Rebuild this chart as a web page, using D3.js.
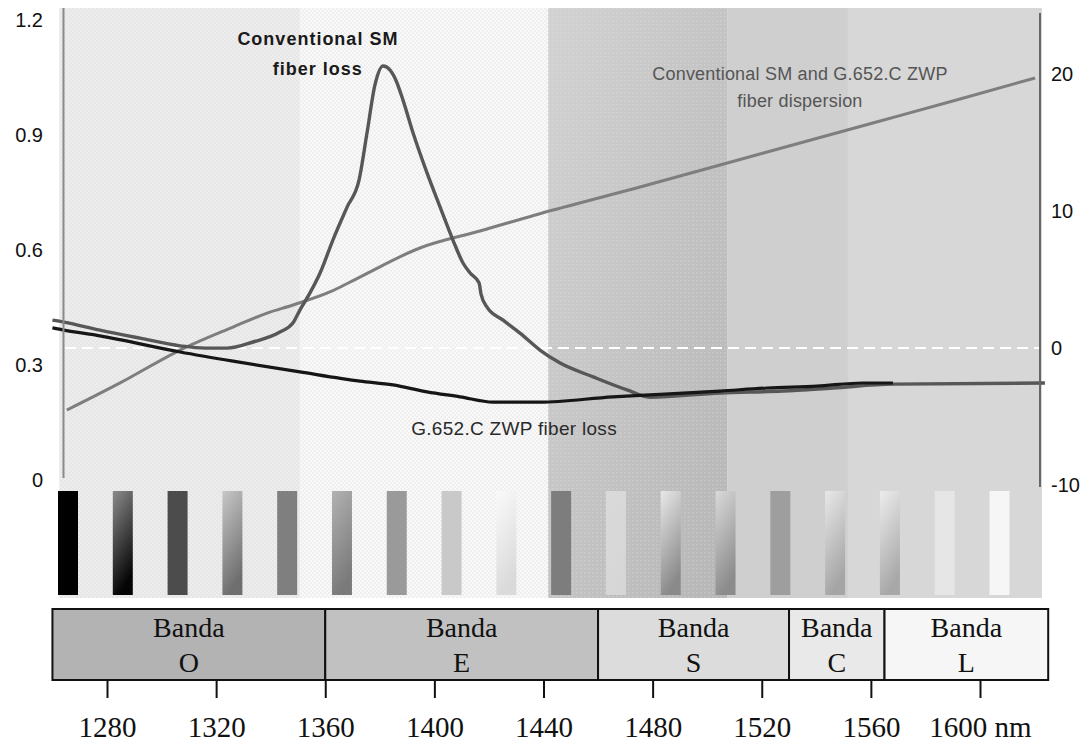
<!DOCTYPE html>
<html>
<head>
<meta charset="utf-8">
<script src="https://cdn.jsdelivr.net/npm/d3@7"></script>
<style>
  body { margin: 0; background: #fff; }
  svg { display: block; }
  .note { font-family: "Liberation Sans", Arial, sans-serif; }
  .tick text { font-family: "Liberation Sans", Arial, sans-serif; }
  .band text, .xaxis text { font-family: "Liberation Serif", "Times New Roman", serif; }
</style>
</head>
<body>
<div id="chart"></div>
<script>
// Conventional SM fiber loss (dB/km)
const convNm   = [1260, 1264.2, 1277.4, 1292.1, 1306.8, 1315.9, 1324, 1333.5, 1343.4, 1348.2, 1350.7, 1354.4, 1358.1, 1362.8, 1368, 1372.4, 1375.3, 1378.2, 1381.2, 1383.7, 1385.9, 1388.5, 1392.2, 1397.3, 1402.1, 1406.8, 1410.5, 1413.1, 1416.4, 1417.1, 1419.3, 1425.2, 1431.4, 1438.7, 1446.1, 1458.2, 1470.6, 1479, 1504.7, 1527.8, 1546.1, 1568.1, 1623.8];
const convLoss = [0.417, 0.412, 0.391, 0.370, 0.350, 0.344, 0.344, 0.360, 0.386, 0.410, 0.443, 0.488, 0.540, 0.626, 0.712, 0.783, 0.905, 1.030, 1.080, 1.070, 1.043, 0.991, 0.905, 0.801, 0.712, 0.626, 0.566, 0.540, 0.514, 0.485, 0.451, 0.417, 0.383, 0.339, 0.305, 0.269, 0.235, 0.216, 0.227, 0.232, 0.240, 0.250, 0.253];

// G.652.C ZWP fiber loss (dB/km)
const zwpNm   = [1260, 1264.2, 1277.4, 1306.8, 1326.2, 1350.7, 1372.7, 1384.8, 1397.3, 1409.4, 1421.5, 1438.7, 1465.5, 1479, 1504.7, 1521.9, 1540.3, 1557.1, 1568.1];
const zwpLoss = [0.397, 0.391, 0.376, 0.334, 0.310, 0.282, 0.258, 0.248, 0.230, 0.217, 0.203, 0.203, 0.217, 0.222, 0.232, 0.240, 0.245, 0.253, 0.253];

// dispersion (ps/nm.km)
const dispNm  = [1265.3, 1284.8, 1306.8, 1326.2, 1338.7, 1348.2, 1361.7, 1372.7, 1394.7, 1416.7, 1443.5, 1475.4, 1504.7, 1534, 1563.4, 1592.7, 1620.2];
const dispVal = [-4.53, -2.55, -0.15, 1.53, 2.55, 3.14, 4.09, 5.18, 7.30, 8.54, 10.07, 11.75, 13.36, 14.96, 16.57, 18.18, 19.71];

// bands
const bandNames = ["O", "E", "S", "C", "L"];
const bandEdges = [1260, 1360, 1460, 1530, 1565, 1625];

// ticks
const lossTicks = [0, 0.3, 0.6, 0.9, 1.2];
const dispTicks = [-10, 0, 10, 20];
const nmTicks   = [1280, 1320, 1360, 1400, 1440, 1480, 1520, 1560, 1600];

// background panels (nm)
const panelEdges = [1262.5, 1350.7, 1441.7, 1507.3, 1551.6, 1622.7];

// spectrum swatches (top colour, bottom colour)
const swatchTop    = ["#000", "#8c8c8c", "#4c4c4c", "#c8c8c8", "#7f7f7f", "#b2b2b2", "#9a9a9a", "#c9c9c9", "#fafafa", "#7d7d7d", "#dadada", "#e8e8e8", "#dadada", "#9e9e9e", "#e8e8e8", "#ededed", "#e6e6e6", "#f6f6f6"];
const swatchBottom = ["#000", "#050505", "#4c4c4c", "#6e6e6e", "#7f7f7f", "#7a7a7a", "#9a9a9a", "#c9c9c9", "#dadada", "#7d7d7d", "#d6d6d6", "#8a8a8a", "#8c8c8c", "#9e9e9e", "#a5a5a5", "#a8a8a8", "#e6e6e6", "#f6f6f6"];

const W = 1086, H = 742;
const svg = d3.select("#chart").append("svg").attr("width", W).attr("height", H);

const x = d3.scaleLinear().domain([1280, 1600]).range([107, 980]);
const yLoss = d3.scaleLinear().domain([0, 1.2]).range([480, 20]);
const yDisp = d3.scaleLinear().domain([-10, 20]).range([485, 74]);

const plotTop = 8, plotBottom = 598;

// patterns
const defs = svg.append("defs");
function checker(id, base, dark) {
  const p = defs.append("pattern").attr("id", id).attr("width", 4).attr("height", 4)
    .attr("patternUnits", "userSpaceOnUse");
  p.append("rect").attr("width", 4).attr("height", 4).attr("fill", base);
  p.append("rect").attr("width", 2).attr("height", 2).attr("fill", dark);
  p.append("rect").attr("x", 2).attr("y", 2).attr("width", 2).attr("height", 2).attr("fill", dark);
}
checker("chk1", "#ededed", "#e6e6e6");
checker("chk2", "#f9f9f9", "#efefef");
const g3 = defs.append("linearGradient").attr("id", "g3")
  .attr("x1", 0).attr("y1", 0).attr("x2", 1).attr("y2", 1);
g3.append("stop").attr("offset", "0%").attr("stop-color", "#d2d2d2");
g3.append("stop").attr("offset", "100%").attr("stop-color", "#b6b6b6");
const dots = defs.append("pattern").attr("id", "dots").attr("width", 4).attr("height", 4)
  .attr("patternUnits", "userSpaceOnUse");
dots.append("rect").attr("width", 1.5).attr("height", 1.5).attr("fill", "#fff").attr("opacity", 0.18);

const panelFill = ["url(#chk1)", "url(#chk2)", "url(#g3)", "#cfcfcf", "#d7d7d7"];
const panels = d3.range(panelEdges.length - 1);
svg.append("g").selectAll("rect").data(panels).join("rect")
  .attr("x", i => x(panelEdges[i]))
  .attr("y", plotTop)
  .attr("width", i => x(panelEdges[i + 1]) - x(panelEdges[i]))
  .attr("height", plotBottom - plotTop)
  .attr("fill", i => panelFill[i]);
svg.append("rect")
  .attr("x", x(panelEdges[2])).attr("y", plotTop)
  .attr("width", x(panelEdges[3]) - x(panelEdges[2])).attr("height", plotBottom - plotTop)
  .attr("fill", "url(#dots)");

// spectrum swatches
swatchTop.forEach((c, i) => {
  const gr = defs.append("linearGradient").attr("id", "sw" + i)
    .attr("x1", 0).attr("y1", 0).attr("x2", 0.3).attr("y2", 1);
  gr.append("stop").attr("offset", "0%").attr("stop-color", c);
  gr.append("stop").attr("offset", "100%").attr("stop-color", swatchBottom[i]);
});
const sx = d3.scalePoint().domain(d3.range(swatchTop.length)).range([68, 999.5]);
svg.append("g").selectAll("rect").data(d3.range(swatchTop.length)).join("rect")
  .attr("x", i => sx(i) - 10)
  .attr("y", 491)
  .attr("width", 20)
  .attr("height", 104)
  .attr("fill", i => "url(#sw" + i + ")");

// zero dispersion dashed line
svg.append("line")
  .attr("x1", 65).attr("x2", 1039)
  .attr("y1", yDisp(0)).attr("y2", yDisp(0))
  .attr("stroke", "#fff").attr("stroke-width", 2).attr("stroke-dasharray", "11,6");

// curves
const line = (xs, ys, yScale) => d3.line().curve(d3.curveMonotoneX)
  .x((d, i) => x(xs[i])).y((d, i) => yScale(ys[i]))(xs);

svg.append("path").attr("d", line(dispNm, dispVal, yDisp))
  .attr("fill", "none").attr("stroke", "#7e7e7e").attr("stroke-width", 3);
svg.append("path").attr("d", line(convNm, convLoss, yLoss))
  .attr("fill", "none").attr("stroke", "#575757").attr("stroke-width", 3.4);
svg.append("path").attr("d", line(zwpNm, zwpLoss, yLoss))
  .attr("fill", "none").attr("stroke", "#161616").attr("stroke-width", 3.2);

// axes
svg.append("line").attr("x1", 63.5).attr("x2", 63.5)
  .attr("y1", plotTop).attr("y2", 478).attr("stroke", "#8a8a8a").attr("stroke-width", 2);
svg.append("line").attr("x1", 1040).attr("x2", 1040)
  .attr("y1", 13).attr("y2", 487).attr("stroke", "#666").attr("stroke-width", 2);

const left = svg.append("g").attr("transform", "translate(63,0)")
  .call(d3.axisLeft(yLoss).tickValues(lossTicks).tickSize(0).tickPadding(20)
    .tickFormat(d => d === 0 ? "0" : d.toFixed(1)));
left.select(".domain").remove();
left.selectAll("text").attr("font-size", 20).attr("fill", "#111");

const right = svg.append("g").attr("transform", "translate(1040,0)")
  .call(d3.axisRight(yDisp).tickValues(dispTicks).tickSize(0).tickPadding(11)
    .tickFormat(d => String(d)));
right.select(".domain").remove();
right.selectAll("text").attr("font-size", 20).attr("fill", "#111");

// notes
const notes = [
  {t: "Conventional SM", nm: 1357.3, v: 1.135, s: "loss", w: "bold", c: "#1a1a1a", f: 18, ls: 1},
  {t: "fiber loss",      nm: 1357.3, v: 1.057, s: "loss", w: "bold", c: "#1a1a1a", f: 18, ls: 1},
  {t: "Conventional SM and G.652.C ZWP", nm: 1534, v: 19.56, s: "disp", w: "normal", c: "#555", f: 18, ls: 0.2},
  {t: "fiber dispersion", nm: 1534, v: 17.6, s: "disp", w: "normal", c: "#555", f: 18, ls: 0.2},
  {t: "G.652.C ZWP fiber loss", nm: 1429.2, v: 0.117, s: "loss", w: "normal", c: "#2a2a2a", f: 19, ls: 0.3}
];
svg.append("g").selectAll("text").data(notes).join("text")
  .attr("class", "note")
  .attr("x", d => x(d.nm))
  .attr("y", d => d.s === "loss" ? yLoss(d.v) : yDisp(d.v))
  .attr("text-anchor", "middle")
  .attr("font-size", d => d.f)
  .attr("font-weight", d => d.w)
  .attr("letter-spacing", d => d.ls)
  .attr("fill", d => d.c)
  .text(d => d.t);

// bands
const bandFill = ["#b3b3b3", "#c1c1c1", "#dcdcdc", "#e9e9e9", "#f6f6f6"];
const band = svg.append("g").attr("class", "band").selectAll("g").data(bandNames).join("g");
band.append("rect")
  .attr("x", (d, i) => x(bandEdges[i]))
  .attr("y", 609)
  .attr("width", (d, i) => x(bandEdges[i + 1]) - x(bandEdges[i]))
  .attr("height", 71)
  .attr("fill", (d, i) => bandFill[i])
  .attr("stroke", "#111").attr("stroke-width", 2);
band.append("text")
  .attr("x", (d, i) => (x(bandEdges[i]) + x(bandEdges[i + 1])) / 2)
  .attr("y", 637).attr("text-anchor", "middle").attr("font-size", 28).attr("fill", "#111")
  .text("Banda");
band.append("text")
  .attr("x", (d, i) => (x(bandEdges[i]) + x(bandEdges[i + 1])) / 2)
  .attr("y", 672).attr("text-anchor", "middle").attr("font-size", 28).attr("fill", "#111")
  .text(d => d);

const bottom = svg.append("g").attr("class", "xaxis").attr("transform", "translate(0,681)")
  .call(d3.axisBottom(x).tickValues(nmTicks).tickSize(17).tickPadding(18)
    .tickFormat(d => d === 1600 ? "1600 nm" : String(d)));
bottom.select(".domain").remove();
bottom.selectAll("line").attr("stroke", "#111").attr("stroke-width", 2);
bottom.selectAll("text").attr("font-size", 29).attr("fill", "#111")
  .attr("font-family", "'Liberation Serif', 'Times New Roman', serif");
</script>
</body>
</html>
